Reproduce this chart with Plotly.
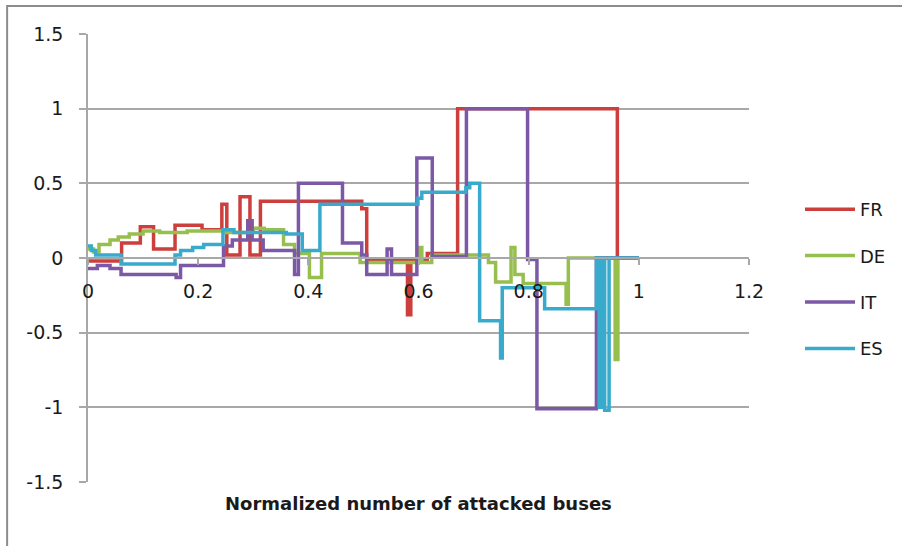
import plotly.graph_objects as go

# Normalized number of attacked buses (step change points) and the metric per country
fr_x = [0, 0.061, 0.095, 0.119, 0.158, 0.207, 0.243, 0.252, 0.276, 0.294, 0.313,
        0.497, 0.506, 0.580, 0.586, 0.616, 0.671, 0.961, 1.0]
fr_y = [-0.02, 0.10, 0.21, 0.06, 0.22, 0.19, 0.36, 0.02, 0.41, 0.02, 0.38,
        0.33, -0.01, -0.38, -0.01, 0.03, 1.0, 0.0, 0.0]

de_x = [0, 0.010, 0.020, 0.040, 0.055, 0.075, 0.100, 0.130, 0.180, 0.250, 0.300,
        0.320, 0.355, 0.375, 0.402, 0.424, 0.494, 0.600, 0.606, 0.624, 0.727,
        0.740, 0.768, 0.775, 0.790, 0.868, 0.872, 0.957, 0.962, 1.0]
de_y = [0.06, 0.04, 0.09, 0.12, 0.14, 0.16, 0.18, 0.17, 0.18, 0.17, 0.20,
        0.19, 0.09, 0.03, -0.13, 0.03, -0.03, 0.07, -0.03, 0.02, -0.03,
        -0.16, 0.07, -0.11, -0.17, -0.31, 0.0, -0.68, 0.0, 0.0]

it_x = [0, 0.017, 0.040, 0.060, 0.160, 0.168, 0.246, 0.262, 0.290, 0.298, 0.318,
        0.375, 0.382, 0.462, 0.497, 0.506, 0.543, 0.551, 0.597, 0.625, 0.687,
        0.798, 0.815, 0.923, 1.0]
it_y = [-0.07, -0.05, -0.07, -0.11, -0.13, -0.05, 0.08, 0.12, 0.25, 0.12, 0.05,
        -0.11, 0.50, 0.10, 0.02, -0.11, 0.06, -0.11, 0.67, 0.01, 1.0,
        -0.01, -1.01, 0.0, 0.0]

es_x = [0, 0.006, 0.014, 0.060, 0.158, 0.168, 0.190, 0.210, 0.245, 0.265, 0.360,
        0.389, 0.421, 0.599, 0.606, 0.686, 0.693, 0.711, 0.749, 0.752, 0.829,
        0.923, 0.928, 0.933, 0.938, 0.946, 1.0]
es_y = [0.08, 0.05, 0.02, -0.04, 0.02, 0.05, 0.07, 0.09, 0.19, 0.17, 0.16,
        0.05, 0.36, 0.40, 0.44, 0.47, 0.50, -0.42, -0.67, -0.20, -0.34,
        0.0, -1.0, 0.0, -1.02, 0.0, 0.0]

series = [
    ("FR", fr_x, fr_y, "#cc3f3c"),
    ("DE", de_x, de_y, "#96bf4d"),
    ("IT", it_x, it_y, "#7c59a6"),
    ("ES", es_x, es_y, "#38aacb"),
]

x_ticks = [0, 0.2, 0.4, 0.6, 0.8, 1, 1.2]
x_tick_text = ["0", "0.2", "0.4", "0.6", "0.8", "1", "1.2"]
y_ticks = [-1.5, -1, -0.5, 0, 0.5, 1, 1.5]
y_tick_text = ["-1.5", "-1", "-0.5", "0", "0.5", "1", "1.5"]

FONT = "'DejaVu Sans', sans-serif"
TEXT = "#1a1a1a"
GRID = "#a8a8a8"

fig = go.Figure()
for name, xs, ys, color in series:
    fig.add_trace(go.Scatter(
        x=xs, y=ys, name=name, mode="lines",
        line=dict(color=color, width=3.5, shape="hv"),
        legendgroup=name,
    ))

W, H = 902, 546
L, R, T, B = 88, 152, 34, 64
pw, ph = W - L - R, H - T - B

def px_x(p):
    return (p - L) / pw

def px_y(p):
    return (H - B - p) / ph

fig.update_layout(
    width=W, height=H,
    margin=dict(l=L, r=R, t=T, b=B, pad=0),
    paper_bgcolor="white", plot_bgcolor="white",
    font=dict(family=FONT, size=18, color=TEXT),
    showlegend=True,
    legend=dict(
        x=px_x(800), y=px_y(191), xanchor="left", yanchor="top",
        font=dict(family=FONT, size=18, color=TEXT),
        tracegroupgap=20, traceorder="grouped",
        bgcolor="rgba(0,0,0,0)", itemwidth=50,
    ),
    xaxis=dict(
        range=[0, 1.2], tickvals=x_ticks, ticktext=x_tick_text,
        showgrid=False, zeroline=False,
        showline=True, linecolor=GRID, linewidth=1.5,
        ticks="outside", ticklen=6, tickcolor=GRID, tickwidth=1.5,
        anchor="free", position=0.5,
        ticklabelstandoff=10,
        tickfont=dict(family=FONT, size=19, color=TEXT),
    ),
    yaxis=dict(
        range=[-1.5, 1.5], tickvals=y_ticks, ticktext=y_tick_text,
        showgrid=True, gridcolor=GRID, gridwidth=1.5, zeroline=False,
        showline=True, linecolor=GRID, linewidth=1.5,
        ticks="outside", ticklen=7, tickcolor=GRID, tickwidth=1.5,
        ticklabelstandoff=12,
        tickfont=dict(family=FONT, size=19, color=TEXT),
    ),
    annotations=[dict(
        text="<b>Normalized number of attacked buses</b>",
        xref="paper", yref="paper", x=0.5, y=px_y(503),
        xanchor="center", yanchor="middle", showarrow=False,
        font=dict(family=FONT, size=18, color=TEXT),
    )],
    shapes=[dict(
        type="rect", xref="paper", yref="paper", layer="below",
        x0=px_x(7), x1=px_x(910), y0=px_y(556), y1=px_y(6),
        line=dict(color="#8c8c8c", width=2), fillcolor="rgba(0,0,0,0)",
    )],
)

fig.write_html("out.html")
